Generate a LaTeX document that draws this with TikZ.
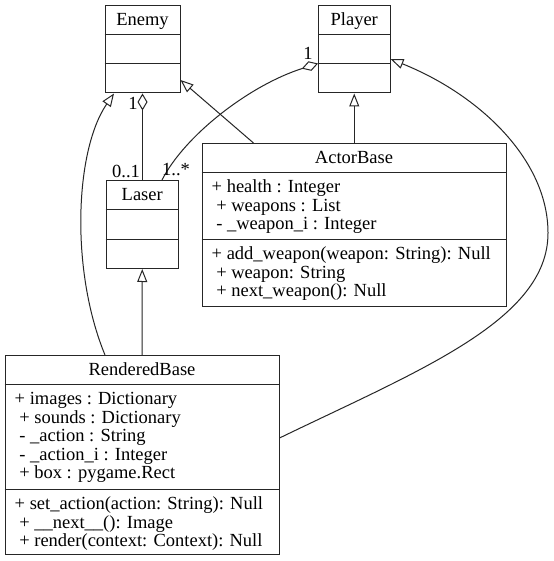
\documentclass[tikz,border=0pt]{standalone}
\usepackage{fontspec}
\setmainfont{Liberation Serif}
\newfontfamily\umlfont{Liberation Serif}
\usetikzlibrary{arrows.meta,calc}
\begin{document}
\begin{tikzpicture}[x=1pt,y=-1pt,
  box/.style={draw=black!85,line width=1pt,rectangle,inner sep=0pt,anchor=north west},
  sep/.style={draw=black!85,line width=1pt},
  txt/.style={inner sep=0pt,font=\umlfont\fontsize{18.5}{18.5}\selectfont},
  line/.style={draw=black!85,line width=1pt},
  inh/.style={line,-{Triangle[open,length=13pt,width=10pt]}},
  agg/.style={line,-{Diamond[open,length=17pt,width=10pt]}}]
\fill[white] (0,0) rectangle (553,561);
\useasboundingbox (0,0) rectangle (553,561);

% Enemy
\node[box,minimum width=75pt,minimum height=87.5pt] (enemy) at (104.5,5) {};
\draw[sep] ($(enemy.north west)+(0,29.5)$) -- ($(enemy.north east)+(0,29.5)$);
\draw[sep] ($(enemy.north west)+(0,59)$) -- ($(enemy.north east)+(0,59)$);
\node[txt,anchor=base] (enemyT) at ($(enemy.north)+(0,20.7)$) {Enemy};

% Player
\node[box,minimum width=71.5pt,minimum height=87.5pt] (player) at (318,5) {};
\draw[sep] ($(player.north west)+(0,29.5)$) -- ($(player.north east)+(0,29.5)$);
\draw[sep] ($(player.north west)+(0,59)$) -- ($(player.north east)+(0,59)$);
\node[txt,anchor=base] (playerT) at ($(player.north)+(0,20.7)$) {Player};

% Laser
\node[box,minimum width=72.5pt,minimum height=88pt] (laser) at (105.5,180) {};
\draw[sep] ($(laser.north west)+(0,29)$) -- ($(laser.north east)+(0,29)$);
\draw[sep] ($(laser.north west)+(0,59)$) -- ($(laser.north east)+(0,59)$);
\node[txt,anchor=base] (laserT) at ($(laser.north)+(0,20.5)$) {Laser};

% ActorBase
\node[box,minimum width=304pt,minimum height=163pt] (actor) at (201.5,143) {};
\draw[sep] ($(actor.north west)+(0,29.3)$) -- ($(actor.north east)+(0,29.3)$);
\draw[sep] ($(actor.north west)+(0,96)$) -- ($(actor.north east)+(0,96)$);
\node[txt,anchor=base] (actorT) at ($(actor.north)+(0,20.7)$) {ActorBase};
\foreach \t [count=\i] in {{+ health : Integer},{\ + weapons : List},{\ - \_weapon\_i : Integer}}
  \node[txt,anchor=base west] (actorA\i) at ($(actor.north west)+(10,{49.8+(\i-1)*18.5})$) {\t};
\foreach \t [count=\i] in {{+ add\_weapon(weapon: String): Null},{\ + weapon: String},{\ + next\_weapon(): Null}}
  \node[txt,anchor=base west] (actorM\i) at ($(actor.north west)+(10,{116.5+(\i-1)*18.5})$) {\t};

% RenderedBase
\node[box,minimum width=274pt,minimum height=199pt] (rendered) at (4.5,355) {};
\draw[sep] ($(rendered.north west)+(0,29)$) -- ($(rendered.north east)+(0,29)$);
\draw[sep] ($(rendered.north west)+(0,134)$) -- ($(rendered.north east)+(0,134)$);
\node[txt,anchor=base] (renderedT) at ($(rendered.north)+(0,20.5)$) {RenderedBase};
\foreach \t [count=\i] in {{+ images : Dictionary},{\ + sounds : Dictionary},{\ - \_action : String},{\ - \_action\_i : Integer},{\ + box : pygame.Rect}}
  \node[txt,anchor=base west] (renderedA\i) at ($(rendered.north west)+(10,{49.5+(\i-1)*18.5})$) {\t};
\foreach \t [count=\i] in {{+ set\_action(action: String): Null},{\ + \_\_next\_\_(): Image},{\ + render(context: Context): Null}}
  \node[txt,anchor=base west] (renderedM\i) at ($(rendered.north west)+(10,{154.5+(\i-1)*18.5})$) {\t};

% Connectors
\draw[inh] ($(actor.north west)+(52,0)$) -- ($(enemy.north east)+(0,75)$);
\draw[inh] (actor.north -| player.south) -- (player.south);
\draw[inh] (rendered.north) -- (laser.south);
\draw[inh] ($(rendered.north west)+(100.5,0)$) .. controls (70,270) and (75,150) .. ($(enemy.south west)+(9.5,0)$);
\draw[inh] ($(rendered.north east)+(0,83)$) .. controls (420,370) and (548,320) .. (548,233)
  .. controls (548,160) and (480,95) .. ($(player.north east)+(0,54)$);
\draw[agg] (laser.north -| enemy.south) -- (enemy.south);
\draw[agg] ($(laser.north west)+(56.5,0)$) .. controls (185,135) and (250,85) .. ($(player.north west)+(0,58.5)$);

% Multiplicities
\node[txt] (m1) at (133,103) {1};
\node[txt] (m2) at (126,171) {0..1};
\node[txt] (m3) at (176,170) {1..*};
\node[txt] (m4) at (308,53) {1};
\end{tikzpicture}
\end{document}
